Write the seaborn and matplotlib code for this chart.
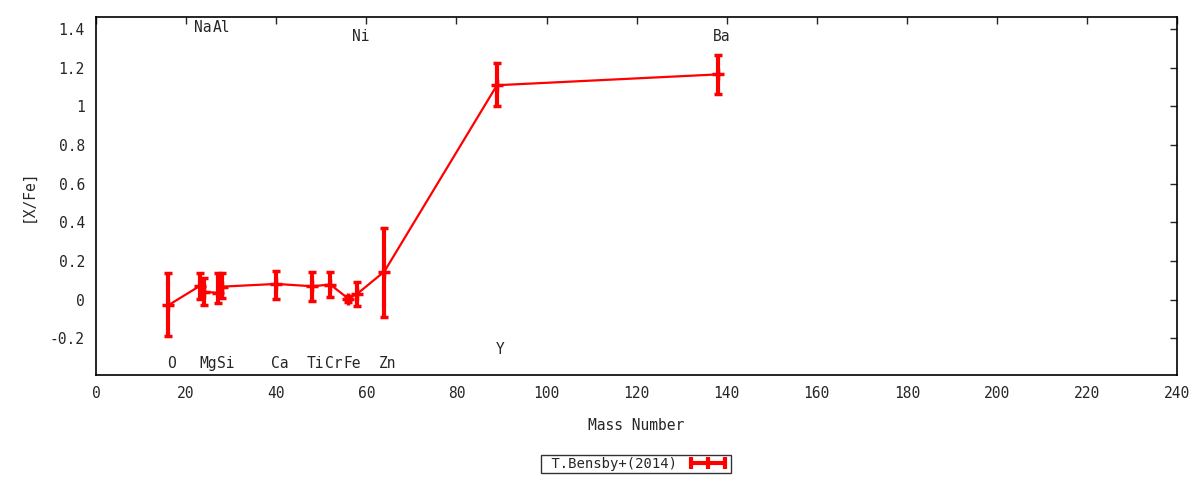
import numpy as np
import matplotlib
matplotlib.use("Agg")
import matplotlib.pyplot as plt
from matplotlib.lines import Line2D
from matplotlib.ticker import FuncFormatter, MultipleLocator
import seaborn as sns
import pandas as pd

# element data
elements = ["O", "Na", "Mg", "Al", "Si", "Ca", "Ti", "Cr", "Fe", "Ni", "Zn", "Y", "Ba"]
mass = [16, 23, 24, 27, 28, 40, 48, 52, 56, 58, 64, 89, 138]
xfe = [-0.03, 0.07, 0.04, 0.035, 0.067, 0.081, 0.069, 0.078, 0.005, 0.03, 0.145, 1.109, 1.165]
err_lo = [0.157, 0.065, 0.07, 0.055, 0.06, 0.076, 0.074, 0.064, 0.015, 0.063, 0.237, 0.109, 0.102]
err_hi = [0.165, 0.065, 0.07, 0.10, 0.07, 0.068, 0.074, 0.065, 0.015, 0.063, 0.227, 0.116, 0.10]
# y position of each element name (gnuplot style labels)
label_y = [-0.33, 1.41, -0.33, 1.41, -0.33, -0.33, -0.33, -0.33, -0.33, 1.36, -0.33, -0.26, 1.36]

df = pd.DataFrame({"mass": mass, "xfe": xfe})

sns.set_style("white")
plt.rcParams["font.family"] = ["DejaVu Sans Mono", "DejaVu Sans"]
plt.rcParams["font.size"] = 10.5

fig = plt.figure(figsize=(12, 4.8), dpi=100)
ax = fig.add_axes([0.08, 0.2188, 0.981 - 0.08, 0.9646 - 0.2188])

sns.lineplot(data=df, x="mass", y="xfe", color="#ff0000", linewidth=1.6,
             sort=False, estimator=None, ax=ax, legend=False)
ax.errorbar(mass, xfe, yerr=[err_lo, err_hi], fmt="+", color="#ff0000",
            ecolor="#ff0000", elinewidth=3, capsize=3, capthick=3,
            markersize=9, markeredgewidth=2.5)

for el, m, ly in zip(elements, mass, label_y):
    ax.text(m + 0.8, ly, el, ha="center", va="center", fontsize=10.5)

ax.set_xlim(0, 240)
ax.set_ylim(-0.39, 1.462)
ax.xaxis.set_major_locator(MultipleLocator(20))
ax.yaxis.set_major_locator(MultipleLocator(0.2))
ax.yaxis.set_major_formatter(FuncFormatter(lambda v, p: "%g" % round(v, 6)))
ax.tick_params(direction="in", top=True, right=True, length=5, width=1,
               labelsize=10.5, pad=8)
for s in ax.spines.values():
    s.set_linewidth(1.2)
    s.set_color("black")

ax.set_xlabel("Mass Number", fontsize=10.5, labelpad=12)
ax.set_ylabel("[X/Fe]", fontsize=10.5, labelpad=10)

handle = Line2D([], [], color="#ff0000", lw=3, marker="|", markersize=8,
                markeredgewidth=3)
leg = fig.legend([handle], [" T.Bensby+(2014)"], loc="center",
                 bbox_to_anchor=(0.53, 0.033), numpoints=3, markerfirst=False,
                 frameon=True, fancybox=False, handlelength=3.0,
                 handletextpad=0.7, borderpad=0.15, fontsize=10)
leg.get_frame().set_edgecolor("black")
leg.get_frame().set_linewidth(1)

fig.savefig("out.png", dpi=100)
